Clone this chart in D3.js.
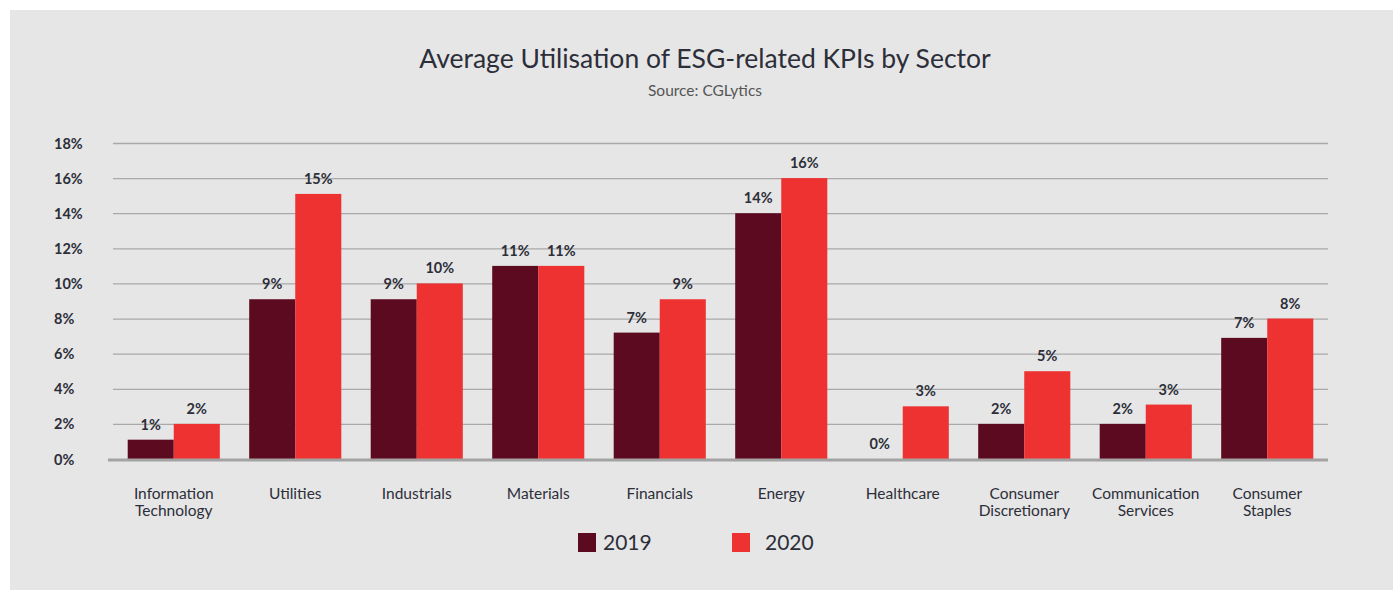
<!DOCTYPE html>
<html><head><meta charset="utf-8">
<script src="https://cdn.jsdelivr.net/npm/d3@7"></script>
<style>
html,body{margin:0;padding:0;background:#fff;}
svg{display:block;font-family:Lato,"Open Sans",sans-serif;}
</style></head>
<body>
<svg id="chart" width="1393" height="590"></svg>
<script>
const categories = ["Information Technology","Utilities","Industrials","Materials","Financials","Energy","Healthcare","Consumer Discretionary","Communication Services","Consumer Staples"];
const categoryLines = [["Information","Technology"],["Utilities"],["Industrials"],["Materials"],["Financials"],["Energy"],["Healthcare"],["Consumer","Discretionary"],["Communication","Services"],["Consumer","Staples"]];
const values2019 = [1.1, 9.1, 9.1, 11.0, 7.2, 14.0, 0, 2.0, 2.0, 6.9];
const values2020 = [2.0, 15.1, 10.0, 11.0, 9.1, 16.0, 3.0, 5.0, 3.1, 8.0];
const labels2019 = ["1%","9%","9%","11%","7%","14%","0%","2%","2%","7%"];
const labels2020 = ["2%","15%","10%","11%","9%","16%","3%","5%","3%","8%"];
const seriesNames = ["2019","2020"];
const yTicks = [0,2,4,6,8,10,12,14,16,18];

(function(){
const colors = {"2019":"#5c0a1f","2020":"#ee3131"};
const textColor = "#2c2e39";

const svg = d3.select("#chart");
svg.append("rect").attr("x",10).attr("y",10).attr("width",1383).attr("height",580).attr("fill","#e6e6e6");

const pLeft = 113, pRight = 1328, pTop = 143, pBottom = 459;
const x = d3.scaleBand().domain(categories).range([pLeft,pRight]).paddingInner(0.242).paddingOuter(0.121);
const xs = d3.scaleBand().domain(seriesNames).range([0,x.bandwidth()]);
const y = d3.scaleLinear().domain([0,18]).range([pBottom,pTop]);

// title
svg.append("text").attr("x",705).attr("y",68).attr("text-anchor","middle")
  .attr("font-size",26.5).attr("fill",textColor).text("Average Utilisation of ESG-related KPIs by Sector");
svg.append("text").attr("x",705).attr("y",96).attr("text-anchor","middle")
  .attr("font-size",15.5).attr("fill","#555").text("Source: CGLytics");

// gridlines
const grid = svg.append("g").attr("transform",`translate(${pLeft},0)`)
  .call(d3.axisLeft(y).tickValues(yTicks.slice(1)).tickSize(-(pRight-pLeft)).tickFormat(""));
grid.select(".domain").remove();
grid.selectAll("line").attr("stroke","#a9a9a9").attr("stroke-width",1.3);

// y labels
const yAxis = svg.append("g").attr("transform",`translate(54,0)`)
  .call(d3.axisLeft(y).tickValues(yTicks).tickSize(0).tickFormat(d=>d+"%"));
yAxis.select(".domain").remove();
yAxis.selectAll("text").attr("text-anchor","start").attr("x",0).attr("dy","0.35em")
  .attr("font-size",14.5).attr("font-weight","bold").attr("fill",textColor).attr("font-family","Lato,sans-serif");

const data = categories.map((c,i)=>({c, vals:[{s:"2019",v:values2019[i],l:labels2019[i]},{s:"2020",v:values2020[i],l:labels2020[i]}]}));

const groups = svg.append("g").selectAll("g").data(data).join("g")
  .attr("transform",d=>`translate(${x(d.c)},0)`);
groups.selectAll("rect").data(d=>d.vals).join("rect")
  .attr("x",d=>xs(d.s)).attr("width",xs.bandwidth())
  .attr("y",d=>y(d.v)).attr("height",d=>pBottom-y(d.v))
  .attr("fill",d=>colors[d.s]);
groups.selectAll("text.val").data(d=>d.vals).join("text").attr("class","val")
  .attr("x",d=>xs(d.s)+xs.bandwidth()/2).attr("y",d=>y(d.v)-10)
  .attr("text-anchor","middle").attr("font-size",14.5).attr("font-weight","bold")
  .attr("fill",textColor).text(d=>d.l);

// baseline
svg.append("line").attr("x1",108).attr("x2",pRight).attr("y1",pBottom+1).attr("y2",pBottom+1)
  .attr("stroke","#a3a3a3").attr("stroke-width",3);

// x labels
const xl = svg.append("g").selectAll("text").data(categories).join("text")
  .attr("x",d=>x(d)+x.bandwidth()/2).attr("y",499)
  .attr("text-anchor","middle").attr("font-size",15.5).attr("fill",textColor);
xl.each(function(d,i){
  const t = d3.select(this);
  categoryLines[i].forEach((ln,j)=>{
    t.append("tspan").attr("x",x(d)+x.bandwidth()/2).attr("dy",j===0?0:17).text(ln);
  });
});

// legend
const legendPos = [{s:"2019",rx:578,tx:603},{s:"2020",rx:732,tx:765}];
const lg = svg.append("g").selectAll("g").data(legendPos).join("g");
lg.append("rect").attr("x",d=>d.rx).attr("y",533).attr("width",18).attr("height",19).attr("fill",d=>colors[d.s]);
lg.append("text").attr("x",d=>d.tx).attr("y",550).attr("font-size",21).attr("fill",textColor).text(d=>d.s);
})();
</script>
</body></html>
